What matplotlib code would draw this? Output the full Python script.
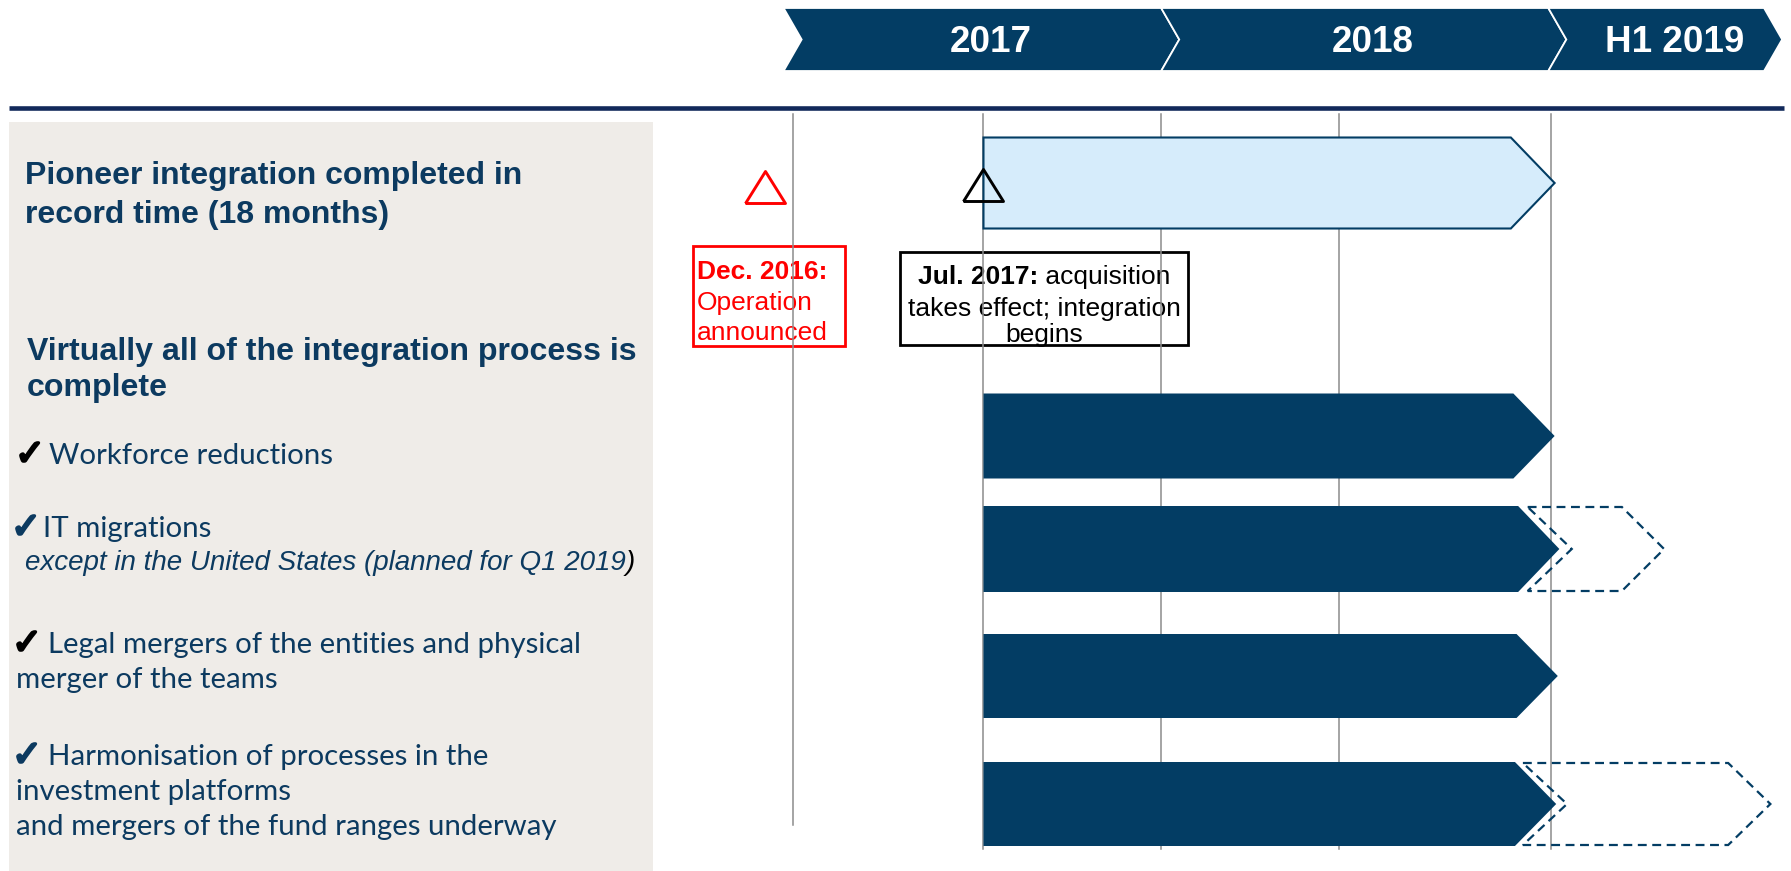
import matplotlib
matplotlib.use("Agg")
import matplotlib.pyplot as plt
import matplotlib.patheffects as pe
from matplotlib.patches import Polygon, Rectangle

W, H, DPI = 1791, 871, 100

# ---------------- data ----------------
periods = ["2017", "2018", "H1 2019"]
period_start = [-0.3, 11.6, 23.8]     # months since Jan 2017
period_end = [11.6, 23.8, 30.6]
grid_months = [0, 6, 11.6, 17.2, 23.9]

milestone_labels = ["Dec. 2016", "Jul. 2017"]
milestone_months = [-0.9, 6.0]
milestone_colors = ["#ff0000", "#000000"]

tasks = ["Pioneer integration", "Workforce reductions", "IT migrations",
         "Legal mergers", "Harmonisation"]
task_start = [6, 6, 6, 6, 6]
task_end = [24.0, 24.0, 24.15, 24.1, 24.05]
ext_start = [None, None, 23.15, None, 23.0]
ext_end = [None, None, 27.45, None, 30.8]

# ---------------- style / layout ----------------
NAVY = "#033d64"
TEXT_NAVY = "#0c3a60"
LIGHT = "#d6ecfb"
PANEL = "#efece8"
GRID = "#8c8c8c"
row_y = [183, 436, 549, 676, 804]
row_h = [91, 85, 86, 84, 84]
PX_PER_MONTH = 31.73
X0 = 793.1  # pixel of month 0

fig = plt.figure(figsize=(W / DPI, H / DPI), dpi=DPI)
base = fig.add_axes([0, 0, 1, 1])
base.set_xlim(0, W)
base.set_ylim(H, 0)
base.axis("off")
ax = fig.add_axes([0, 0, 1, 1], zorder=2)
ax.set_xlim(-X0 / PX_PER_MONTH, (W - X0) / PX_PER_MONTH)
ax.set_ylim(H, 0)
ax.axis("off")
ax.patch.set_alpha(0)
renderer = fig.canvas.get_renderer()

SANS = ["Liberation Sans", "DejaVu Sans"]
CAL = ["Lato", "DejaVu Sans"]


def fit(s, width, **kw):
    t = base.text(0, 0, s, fontsize=20, **kw)
    w = t.get_window_extent(renderer).width
    t.remove()
    return 20 * width / w


def textw(t):
    return t.get_window_extent(renderer).width


def chevron(axis, start, end, yc, h, depth, notch=0.0, **kw):
    top, bot = yc - h / 2, yc + h / 2
    pts = [(start, top), (end - depth, top), (end, yc), (end - depth, bot),
           (start, bot), (start + notch, yc)]
    p = Polygon(pts, closed=True, **kw)
    axis.add_patch(p)
    return p


# left panel
base.add_patch(Rectangle((9, 122), 644, 760, facecolor=PANEL, edgecolor="none", zorder=0))
# header rule
base.plot([9, 1784], [108.5, 108.5], color="#12295a", lw=3.3, solid_capstyle="butt", zorder=1)

# header chevrons
hs = fit("2017", 82, family=SANS, weight="bold")
for lab, s, e in zip(periods, period_start, period_end):
    d = 0.57
    chevron(ax, s, e + d, 39.5, 63, d, notch=d, facecolor=NAVY, edgecolor="white", lw=1.3, zorder=3)
    ax.text((s + d + e + d) / 2, 52.5, lab, ha="center", va="baseline", color="white",
            fontsize=hs, family=SANS, weight="bold", zorder=4)

# grid lines
for i, g in enumerate(grid_months):
    ax.plot([g, g], [114, 825 if i == 0 else 849], color=GRID, lw=1.1, zorder=1)

# task bars
for i, (name, s, e) in enumerate(zip(tasks, task_start, task_end)):
    if i == 0:
        chevron(ax, s, e, row_y[i], row_h[i], 1.38, facecolor=LIGHT, edgecolor=NAVY, lw=1.5, zorder=2)
    else:
        chevron(ax, s, e, row_y[i], row_h[i], 1.3, facecolor=NAVY, edgecolor="none", zorder=2)
    if ext_start[i] is not None:
        chevron(ax, ext_start[i], ext_end[i], row_y[i], row_h[i] - 2, 1.33, notch=1.39,
                facecolor="none", edgecolor=NAVY, lw=1.6, linestyle=(0, (4, 2.5)), zorder=3)

# milestones (open triangles, wider than tall)
tri = [(-1, -0.8), (1, -0.8), (0, 0.8), (-1, -0.8)]
for m, c, yy in zip(milestone_months, milestone_colors, [187, 185]):
    ax.plot([m], [yy], linestyle="none", marker=tri, markersize=28.8, markerfacecolor="none",
            markeredgecolor=c, markeredgewidth=2.1, zorder=4)

# red box
base.add_patch(Rectangle((693, 246), 152, 100, facecolor="none", edgecolor="#ff0000", lw=2, zorder=3))
rs = fit("announced", 130, family=SANS)
base.text(697, 279, "Dec. 2016:", color="#ff0000", fontsize=rs, family=SANS, weight="bold", va="baseline", zorder=4)
base.text(697, 310, "Operation", color="#ff0000", fontsize=rs, family=SANS, va="baseline", zorder=4)
base.text(697, 340, "announced", color="#ff0000", fontsize=rs, family=SANS, va="baseline", zorder=4)

# black box
base.add_patch(Rectangle((900, 252), 288, 93, facecolor="none", edgecolor="black", lw=2, zorder=3))
bs = fit("takes effect; integration", 272, family=SANS)
cx = 1044
t1 = base.text(0, 284, "Jul. 2017:", fontsize=bs, family=SANS, weight="bold", va="baseline", zorder=4)
t2 = base.text(0, 284, " acquisition", fontsize=bs, family=SANS, va="baseline", zorder=4)
w1, w2 = textw(t1), textw(t2)
t1.set_x(cx - (w1 + w2) / 2)
t2.set_x(cx - (w1 + w2) / 2 + w1)
base.text(cx, 316, "takes effect; integration", fontsize=bs, family=SANS, ha="center", va="baseline", zorder=4)
base.text(cx, 342, "begins", fontsize=bs, family=SANS, ha="center", va="baseline", zorder=4)

# left panel text
ts = fit("Pioneer integration completed in", 497, family=SANS, weight="bold")
base.text(25, 184, "Pioneer integration completed in", fontsize=ts, family=SANS, weight="bold", color=TEXT_NAVY)
base.text(25, 223, "record time (18 months)", fontsize=ts, family=SANS, weight="bold", color=TEXT_NAVY)
vs = fit("Virtually all of the integration process is", 608, family=SANS, weight="bold")
base.text(27, 360, "Virtually all of the integration process is", fontsize=vs, family=SANS, weight="bold", color=TEXT_NAVY)
base.text(27, 396, "complete", fontsize=vs, family=SANS, weight="bold", color=TEXT_NAVY)

cs = fit("Legal mergers of the entities and physical", 534, family=CAL)
items = [
    (15, 49, 464, "black", ["Workforce reductions"]),
    (11, 43, 537, TEXT_NAVY, ["IT migrations"]),
    (12, 48, 653, "black", ["Legal mergers of the entities and physical", "merger of the teams"]),
    (12, 48, 765, TEXT_NAVY, ["Harmonisation of processes in the", "investment platforms",
                              "and mergers of the fund ranges underway"]),
]
line_gap = 35
ck = fit("\u2713", 30, family=["DejaVu Sans"])
for cxk, tx, by, ccol, lines in items:
    base.text(cxk, by + 1, "\u2713", fontsize=ck, family=["DejaVu Sans"], color=ccol, va="baseline",
              path_effects=[pe.withStroke(linewidth=1.8, foreground=ccol)])
    for j, ln in enumerate(lines):
        base.text(tx if j == 0 else 16, by + j * line_gap, ln, fontsize=cs, family=CAL, color=TEXT_NAVY)

isz = fit("except in the United States (planned for Q1 2019)", 610, family=SANS, style="italic")
ti = base.text(25, 570, "except in the United States (planned for Q1 2019", fontsize=isz, family=SANS,
               style="italic", color=TEXT_NAVY)
base.text(25 + textw(ti), 570, ")", fontsize=isz, family=SANS, style="italic", color="black")

fig.savefig("out.png", dpi=DPI)
